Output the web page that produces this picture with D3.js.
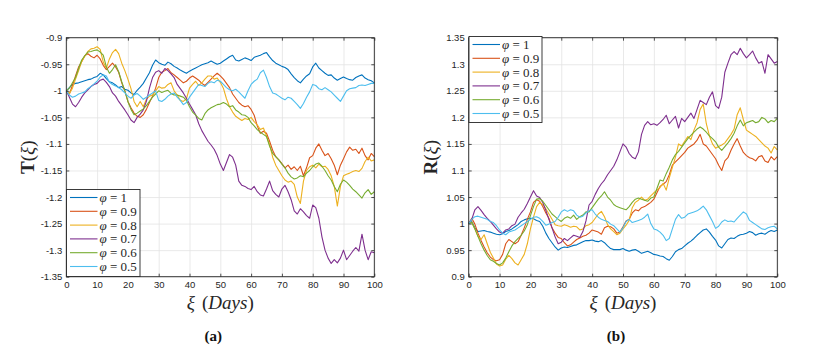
<!DOCTYPE html>
<html>
<head>
<meta charset="utf-8">
<script src="https://cdn.jsdelivr.net/npm/d3@7"></script>
<style>
  body { margin: 0; background: #fff; }
  svg { display: block; }
</style>
</head>
<body>
<svg id="chart"></svg>
<script>
// ---- data (one value per day) ----
var days = d3.range(0, 101);
var phiLabels = ["1", "0.9", "0.8", "0.7", "0.6", "0.5"];
var xTicks = [0, 10, 20, 30, 40, 50, 60, 70, 80, 90, 100];
var tTicks = [-1.35, -1.3, -1.25, -1.2, -1.15, -1.1, -1.05, -1, -0.95, -0.9];
var rTicks = [0.9, 0.95, 1, 1.05, 1.1, 1.15, 1.2, 1.25, 1.3, 1.35];

var T_phi1 = [-1.000,-0.994,-0.988,-0.986,-0.985,-0.983,-0.981,-0.979,-0.978,-0.975,-0.973,-0.967,-0.970,-0.977,-0.983,-0.985,-0.989,-0.994,-0.992,-0.997,-0.999,-1.004,-1.007,-0.999,-0.993,-0.986,-0.976,-0.966,-0.952,-0.942,-0.947,-0.950,-0.952,-0.946,-0.949,-0.954,-0.957,-0.961,-0.964,-0.967,-0.963,-0.960,-0.957,-0.954,-0.951,-0.949,-0.947,-0.944,-0.947,-0.950,-0.948,-0.944,-0.940,-0.936,-0.933,-0.942,-0.944,-0.941,-0.938,-0.940,-0.943,-0.937,-0.935,-0.933,-0.930,-0.928,-0.936,-0.943,-0.948,-0.951,-0.954,-0.956,-0.960,-0.968,-0.975,-0.981,-0.985,-0.978,-0.972,-0.968,-0.955,-0.948,-0.957,-0.962,-0.967,-0.971,-0.970,-0.976,-0.980,-0.977,-0.974,-0.977,-0.979,-0.980,-0.975,-0.972,-0.970,-0.976,-0.979,-0.981,-0.985];
var T_phi09 = [-1.000,-1.006,-0.990,-0.972,-0.955,-0.945,-0.934,-0.930,-0.935,-0.938,-0.933,-0.940,-0.952,-0.960,-0.954,-0.948,-0.955,-0.965,-0.985,-1.000,-1.020,-1.032,-1.042,-1.048,-1.050,-1.045,-1.035,-1.022,-1.010,-0.995,-0.975,-0.965,-0.962,-0.958,-0.966,-0.970,-0.975,-0.980,-0.985,-0.982,-0.976,-0.972,-0.976,-0.980,-0.986,-0.990,-0.984,-0.978,-0.972,-0.967,-0.972,-0.978,-0.986,-0.994,-1.006,-1.014,-1.022,-1.027,-1.030,-1.028,-1.035,-1.046,-1.066,-1.080,-1.076,-1.080,-1.095,-1.112,-1.124,-1.130,-1.137,-1.145,-1.140,-1.148,-1.143,-1.150,-1.142,-1.160,-1.145,-1.126,-1.122,-1.108,-1.100,-1.112,-1.122,-1.118,-1.128,-1.140,-1.158,-1.140,-1.128,-1.115,-1.106,-1.112,-1.110,-1.118,-1.108,-1.122,-1.130,-1.118,-1.124];
var T_phi08 = [-1.000,-1.005,-0.995,-0.978,-0.962,-0.945,-0.935,-0.926,-0.921,-0.920,-0.917,-0.922,-0.946,-0.957,-0.940,-0.928,-0.922,-0.930,-0.948,-0.962,-0.978,-0.996,-1.020,-1.030,-1.020,-1.030,-1.016,-1.010,-1.008,-1.000,-0.992,-0.995,-0.994,-0.988,-0.985,-1.000,-1.008,-1.018,-1.020,-1.015,-0.995,-0.988,-0.982,-0.990,-0.985,-0.978,-0.972,-0.972,-0.978,-0.976,-0.984,-0.995,-1.015,-1.030,-1.040,-1.048,-1.052,-1.056,-1.052,-1.054,-1.050,-1.058,-1.064,-1.073,-1.070,-1.085,-1.101,-1.125,-1.140,-1.150,-1.160,-1.168,-1.172,-1.170,-1.176,-1.200,-1.212,-1.170,-1.150,-1.143,-1.140,-1.145,-1.138,-1.143,-1.142,-1.148,-1.160,-1.180,-1.217,-1.180,-1.160,-1.157,-1.155,-1.152,-1.150,-1.152,-1.146,-1.133,-1.125,-1.132,-1.130];
var T_phi07 = [-1.000,-1.012,-1.025,-1.030,-1.022,-1.012,-1.004,-0.998,-0.992,-0.988,-0.986,-0.980,-0.978,-0.984,-0.992,-1.004,-1.010,-1.020,-1.028,-1.036,-1.045,-1.055,-1.060,-1.050,-1.044,-1.036,-1.020,-0.995,-0.975,-0.965,-0.962,-0.967,-0.958,-0.962,-0.968,-0.975,-0.988,-0.996,-1.004,-1.014,-1.025,-1.035,-1.045,-1.062,-1.075,-1.085,-1.095,-1.102,-1.110,-1.122,-1.138,-1.150,-1.135,-1.120,-1.125,-1.140,-1.170,-1.178,-1.180,-1.184,-1.186,-1.180,-1.190,-1.196,-1.198,-1.185,-1.170,-1.188,-1.195,-1.200,-1.185,-1.178,-1.190,-1.205,-1.226,-1.232,-1.222,-1.228,-1.235,-1.240,-1.215,-1.220,-1.240,-1.275,-1.300,-1.315,-1.325,-1.318,-1.324,-1.315,-1.300,-1.318,-1.310,-1.302,-1.295,-1.302,-1.270,-1.300,-1.318,-1.303,-1.305];
var T_phi06 = [-1.000,-0.995,-0.985,-0.975,-0.958,-0.942,-0.934,-0.927,-0.926,-0.924,-0.923,-0.927,-0.933,-0.955,-0.967,-0.960,-0.951,-0.964,-0.983,-1.000,-1.020,-1.035,-1.045,-1.042,-1.038,-1.034,-1.028,-1.020,-1.012,-1.006,-1.000,-1.003,-1.001,-0.999,-1.005,-1.008,-1.008,-1.010,-1.012,-1.018,-1.030,-1.040,-1.046,-1.052,-1.055,-1.043,-1.036,-1.032,-1.029,-1.026,-1.025,-1.022,-1.025,-1.030,-1.028,-1.036,-1.040,-1.045,-1.046,-1.050,-1.060,-1.066,-1.073,-1.078,-1.082,-1.086,-1.104,-1.118,-1.124,-1.130,-1.138,-1.145,-1.155,-1.162,-1.166,-1.164,-1.160,-1.162,-1.155,-1.150,-1.143,-1.138,-1.136,-1.142,-1.150,-1.160,-1.168,-1.180,-1.190,-1.176,-1.168,-1.172,-1.178,-1.185,-1.190,-1.196,-1.202,-1.192,-1.186,-1.195,-1.190];
var T_phi05 = [-1.000,-1.008,-1.012,-1.010,-1.006,-1.004,-1.002,-0.996,-0.992,-0.987,-0.982,-0.974,-0.970,-0.972,-0.984,-0.988,-0.991,-0.994,-0.998,-1.004,-1.010,-1.014,-1.008,-1.005,-1.010,-1.016,-1.012,-1.008,-1.004,-1.000,-1.018,-1.020,-1.016,-1.010,-1.006,-1.004,-1.012,-1.018,-1.026,-1.022,-1.012,-1.004,-0.996,-0.988,-0.990,-0.992,-0.986,-0.983,-0.985,-0.980,-0.982,-0.988,-0.994,-0.998,-1.000,-0.997,-1.002,-1.008,-1.014,-1.000,-0.988,-0.982,-0.978,-0.966,-0.961,-0.975,-0.992,-1.004,-1.006,-1.010,-1.014,-1.017,-1.012,-1.014,-1.020,-1.026,-1.033,-1.024,-1.012,-1.002,-0.988,-0.990,-0.996,-0.998,-0.994,-0.998,-1.002,-1.008,-1.014,-1.020,-1.010,-1.000,-0.996,-0.995,-0.994,-0.990,-0.989,-0.990,-0.988,-0.986,-0.986];

var R_phi1 = [1.000,1.004,0.992,0.985,0.986,0.987,0.985,0.984,0.982,0.980,0.979,0.981,0.985,0.987,0.990,0.994,0.998,1.004,1.007,1.009,1.010,1.009,1.006,1.004,0.995,0.982,0.972,0.964,0.956,0.950,0.954,0.956,0.955,0.957,0.959,0.960,0.963,0.966,0.968,0.968,0.969,0.967,0.966,0.968,0.964,0.958,0.953,0.951,0.951,0.951,0.953,0.950,0.948,0.950,0.951,0.948,0.944,0.946,0.948,0.945,0.942,0.941,0.939,0.938,0.934,0.931,0.938,0.947,0.951,0.953,0.958,0.963,0.967,0.972,0.978,0.983,0.988,0.990,0.984,0.976,0.969,0.958,0.954,0.962,0.970,0.973,0.972,0.976,0.979,0.980,0.982,0.985,0.983,0.978,0.981,0.982,0.980,0.984,0.987,0.985,0.988];
var R_phi09 = [1.000,1.010,0.999,0.982,0.968,0.956,0.945,0.937,0.932,0.930,0.932,0.942,0.962,0.970,0.966,0.962,0.966,0.978,0.992,1.008,1.022,1.040,1.045,1.042,1.032,1.020,1.010,0.992,0.982,0.974,0.972,0.964,0.958,0.960,0.965,0.970,0.973,0.976,0.978,0.982,0.988,0.986,0.984,0.980,0.992,0.995,0.994,0.990,0.982,0.984,0.994,1.005,1.008,1.020,1.026,1.024,1.030,1.032,1.036,1.040,1.046,1.058,1.070,1.074,1.079,1.092,1.110,1.116,1.122,1.128,1.134,1.142,1.146,1.150,1.157,1.168,1.150,1.146,1.138,1.130,1.122,1.110,1.100,1.118,1.124,1.138,1.150,1.160,1.146,1.134,1.128,1.124,1.122,1.118,1.126,1.128,1.118,1.115,1.126,1.120,1.126];
var R_phi08 = [1.000,1.003,0.990,0.976,0.970,0.979,0.962,0.946,0.935,0.924,0.920,0.922,0.933,0.940,0.934,0.926,0.922,0.932,0.942,0.962,0.990,1.012,1.032,1.040,1.036,1.028,1.018,1.008,0.998,0.996,0.995,0.998,0.996,0.993,0.995,0.994,0.988,0.990,0.996,0.998,1.002,1.010,1.018,1.023,1.013,0.998,0.990,0.985,0.979,0.982,0.990,0.997,1.006,1.030,1.040,1.044,1.050,1.044,1.046,1.052,1.058,1.063,1.068,1.076,1.063,1.086,1.106,1.125,1.150,1.146,1.155,1.164,1.158,1.176,1.190,1.215,1.225,1.188,1.165,1.150,1.142,1.145,1.148,1.152,1.160,1.168,1.178,1.205,1.218,1.196,1.176,1.172,1.168,1.164,1.158,1.152,1.146,1.142,1.133,1.145,1.139];
var R_phi07 = [1.000,1.008,1.026,1.032,1.025,1.017,1.010,1.004,0.997,0.990,0.984,0.982,0.988,0.990,0.996,0.999,1.012,1.020,1.027,1.038,1.050,1.062,1.052,1.049,1.040,1.025,1.008,0.992,0.975,0.962,0.965,0.972,0.968,0.973,0.978,0.976,0.974,0.985,1.005,1.035,1.042,1.055,1.066,1.075,1.082,1.092,1.100,1.108,1.120,1.135,1.150,1.144,1.132,1.125,1.122,1.135,1.168,1.185,1.192,1.186,1.188,1.185,1.190,1.196,1.204,1.188,1.195,1.202,1.180,1.198,1.192,1.200,1.208,1.198,1.215,1.232,1.228,1.224,1.238,1.248,1.222,1.217,1.238,1.285,1.302,1.318,1.324,1.318,1.330,1.320,1.312,1.318,1.325,1.312,1.302,1.305,1.283,1.318,1.310,1.302,1.305];
var R_phi06 = [1.000,1.002,0.990,0.976,0.962,0.950,0.940,0.932,0.929,0.925,0.922,0.926,0.935,0.947,0.958,0.966,0.972,0.978,0.986,0.998,1.015,1.032,1.046,1.047,1.042,1.034,1.026,1.018,1.013,1.008,1.004,1.010,1.013,1.010,1.016,1.008,1.013,1.016,1.022,1.022,1.030,1.038,1.046,1.052,1.060,1.050,1.044,1.036,1.032,1.030,1.028,1.026,1.032,1.040,1.046,1.048,1.046,1.044,1.042,1.048,1.050,1.066,1.082,1.080,1.094,1.106,1.120,1.130,1.136,1.144,1.152,1.160,1.166,1.172,1.178,1.182,1.178,1.172,1.165,1.160,1.154,1.144,1.138,1.145,1.152,1.160,1.170,1.184,1.195,1.184,1.190,1.192,1.194,1.190,1.192,1.200,1.197,1.190,1.194,1.192,1.198];
var R_phi05 = [1.000,1.008,1.013,1.014,1.012,1.010,1.008,1.004,1.002,0.996,0.988,0.982,0.979,0.984,0.986,0.988,0.992,0.996,1.000,1.004,1.008,1.012,1.013,1.010,1.004,0.997,0.999,1.002,1.004,1.012,1.022,1.026,1.023,1.026,1.024,1.016,1.012,1.014,1.020,1.024,1.026,1.018,1.012,1.008,1.006,1.004,0.999,0.996,0.990,0.984,0.992,1.004,1.008,1.002,1.004,1.006,1.008,1.012,1.018,1.000,0.990,0.988,0.984,0.978,0.968,0.972,0.990,1.008,1.017,1.010,1.012,1.018,1.020,1.022,1.024,1.028,1.033,1.026,1.015,1.004,0.991,0.995,1.003,1.007,1.004,1.005,1.003,1.010,1.016,1.022,1.018,1.006,1.002,0.998,0.994,0.990,0.989,0.992,0.994,0.995,0.990];

var colors = ["#0072BD", "#D95319", "#EDB120", "#7E2F8E", "#77AC30", "#4DBEEE"];

var panels = [
    { left: 66.3, right: 374.3, top: 37.7, bottom: 276.7,
      domain: [-1.35, -0.9], ticks: tTicks, letter: "T", caption: "(a)",
      series: [T_phi1, T_phi09, T_phi08, T_phi07, T_phi06, T_phi05],
      legend: { x: 66.5, y: 189.5, w: 73.5, h: 87 } },
    { left: 468.7, right: 777.3, top: 37.7, bottom: 276.7,
      domain: [0.9, 1.35], ticks: rTicks, letter: "R", caption: "(b)",
      series: [R_phi1, R_phi09, R_phi08, R_phi07, R_phi06, R_phi05],
      legend: { x: 469, y: 36.5, w: 73, h: 86 } }
];

var svg = d3.select("#chart")
    .attr("width", 821)
    .attr("height", 350);

panels.forEach(function(p){
    var w = p.right - p.left,
        h = p.bottom - p.top;

    // set the ranges
    var x = d3.scaleLinear().domain([0, 100]).range([0, w]);
    var y = d3.scaleLinear().domain(p.domain).range([h, 0]);

    var g = svg.append("g")
        .attr("transform", "translate(" + p.left + "," + p.top + ")");

    // grid
    g.append("g")
        .attr("class", "grid")
        .attr("transform", "translate(0," + h + ")")
        .call(d3.axisBottom(x).tickValues(xTicks).tickSize(-h).tickFormat(""));
    g.append("g")
        .attr("class", "grid")
        .call(d3.axisLeft(y).tickValues(p.ticks).tickSize(-w).tickFormat(""));
    g.selectAll(".grid path").remove();
    g.selectAll(".grid line").attr("stroke", "#e3e3e3").attr("stroke-width", 0.8);

    // the lines
    var valueline = d3.line()
        .x(function(d, i) { return x(days[i]); })
        .y(function(d) { return y(d); });

    p.series.forEach(function(s, k){
        g.append("path")
            .datum(s)
            .attr("d", valueline)
            .attr("fill", "none")
            .attr("stroke", colors[k])
            .attr("stroke-width", 1.1)
            .attr("stroke-linejoin", "round");
    });

    // axes, matlab style: ticks inside, box all round
    g.append("g")
        .attr("transform", "translate(0," + h + ")")
        .call(d3.axisBottom(x).tickValues(xTicks).tickSizeInner(-3).tickSizeOuter(0).tickPadding(5));
    g.append("g")
        .call(d3.axisLeft(y).tickValues(p.ticks).tickSizeInner(-3).tickSizeOuter(0).tickPadding(4)
            .tickFormat(function(d){ return String(d); }));
    g.append("g")
        .call(d3.axisTop(x).tickValues(xTicks).tickSize(-3).tickFormat(""));
    g.append("g")
        .attr("transform", "translate(" + w + ",0)")
        .call(d3.axisRight(y).tickValues(p.ticks).tickSize(-3).tickFormat(""));
    g.selectAll(".domain").remove();
    g.selectAll(".tick line").filter(function(){ return this.parentNode.parentNode.getAttribute("class") != "grid"; })
        .attr("stroke", "#262626").attr("stroke-width", 0.8);
    g.selectAll("text")
        .attr("font-family", "'Liberation Sans', Arial, sans-serif")
        .attr("font-size", "9.5px")
        .attr("fill", "#262626");

    g.append("rect")
        .attr("width", w)
        .attr("height", h)
        .attr("fill", "none")
        .attr("stroke", "#262626")
        .attr("stroke-width", 0.9);

    // x label
    var xl = svg.append("text")
        .attr("x", p.left + w / 2)
        .attr("y", p.bottom + 32)
        .attr("text-anchor", "middle")
        .attr("font-family", "'Liberation Serif', 'DejaVu Serif', serif")
        .attr("font-size", "19px")
        .attr("font-style", "italic")
        .attr("fill", "#262626");
    xl.append("tspan").text("ξ");
    xl.append("tspan").attr("font-style", "normal").attr("dx", 7).text("(");
    xl.append("tspan").text("Days");
    xl.append("tspan").attr("font-style", "normal").text(")");

    // y label
    var yl = svg.append("text")
        .attr("transform", "translate(" + (p.left - 32) + "," + (p.top + h / 2) + ") rotate(-90)")
        .attr("text-anchor", "middle")
        .attr("font-family", "'Liberation Serif', 'DejaVu Serif', serif")
        .attr("font-size", "19px")
        .attr("fill", "#262626");
    yl.append("tspan").attr("font-weight", "bold").text(p.letter);
    yl.append("tspan").text("(");
    yl.append("tspan").attr("font-style", "italic").text("ξ");
    yl.append("tspan").text(")");

    // caption
    svg.append("text")
        .attr("x", p.left + w / 2 - 7)
        .attr("y", p.bottom + 64)
        .attr("text-anchor", "middle")
        .attr("font-family", "'Liberation Serif', serif")
        .attr("font-weight", "bold")
        .attr("font-size", "15px")
        .attr("fill", "#111")
        .text(p.caption);

    // legend
    var lg = svg.append("g")
        .attr("transform", "translate(" + p.legend.x + "," + p.legend.y + ")");
    lg.append("rect")
        .attr("width", p.legend.w)
        .attr("height", p.legend.h)
        .attr("fill", "#fff")
        .attr("stroke", "#262626")
        .attr("stroke-width", 0.9);
    phiLabels.forEach(function(lab, k){
        var ry = 8 + k * 13.8;
        lg.append("line")
            .attr("x1", 3.5).attr("x2", 31)
            .attr("y1", ry).attr("y2", ry)
            .attr("stroke", colors[k])
            .attr("stroke-width", 1.1);
        var t = lg.append("text")
            .attr("x", 33)
            .attr("y", ry + 4.5)
            .attr("font-family", "'Liberation Serif', 'DejaVu Serif', serif")
            .attr("font-size", "13px")
            .attr("fill", "#262626");
        t.append("tspan").attr("font-style", "italic").text("φ");
        t.append("tspan").text(" = " + lab);
    });
});
</script>
</body>
</html>
